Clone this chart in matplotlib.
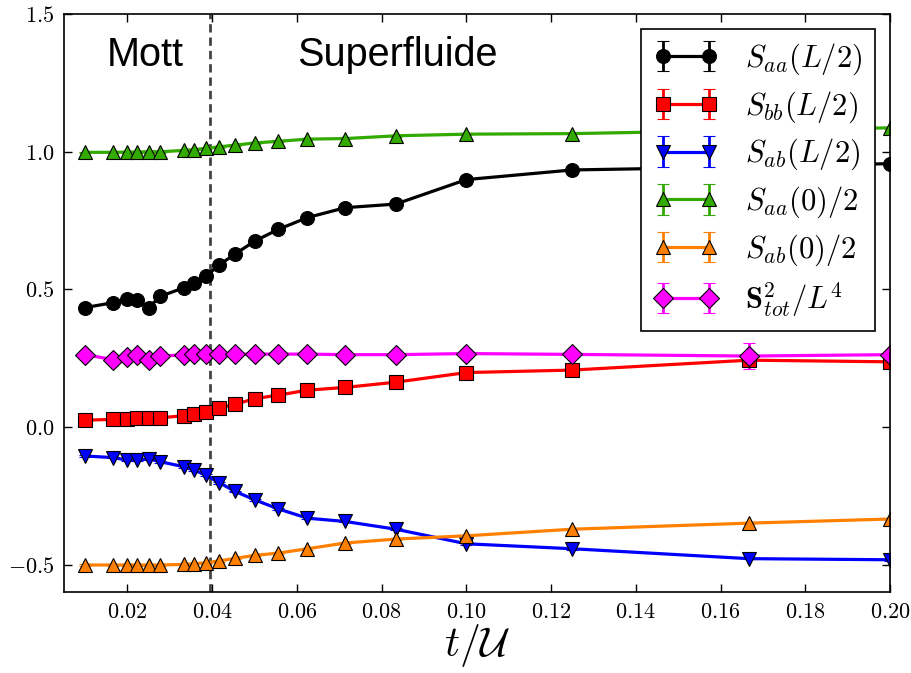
import matplotlib
matplotlib.use("Agg")
import matplotlib.pyplot as plt
from matplotlib.ticker import FuncFormatter

plt.rcParams['mathtext.fontset'] = 'cm'

# t/U values (1/U with t = 1)
t_over_u = [0.01, 0.01667, 0.02, 0.02222, 0.025, 0.02778, 0.03333, 0.03571,
            0.03846, 0.04167, 0.04545, 0.05, 0.05556, 0.0625, 0.07143, 0.08333,
            0.10, 0.125, 0.16667, 0.20]

s_aa_half = [0.434, 0.452, 0.466, 0.460, 0.434, 0.475, 0.506, 0.522, 0.547, 0.589,
             0.629, 0.675, 0.718, 0.761, 0.797, 0.810, 0.899, 0.934, 0.945, 0.957]
s_bb_half = [0.025, 0.028, 0.030, 0.032, 0.032, 0.034, 0.041, 0.047, 0.055, 0.069,
             0.083, 0.103, 0.116, 0.134, 0.144, 0.163, 0.198, 0.207, 0.243, 0.237]
s_ab_half = [-0.105, -0.111, -0.120, -0.120, -0.115, -0.126, -0.144, -0.156, -0.174, -0.202,
             -0.234, -0.264, -0.297, -0.331, -0.343, -0.371, -0.424, -0.442, -0.478, -0.482]
s_aa_zero = [0.998, 0.998, 0.999, 0.999, 1.000, 1.000, 1.005, 1.008, 1.012, 1.018,
             1.024, 1.032, 1.038, 1.046, 1.048, 1.058, 1.064, 1.066, 1.078, 1.087]
s_ab_zero = [-0.501, -0.501, -0.501, -0.501, -0.501, -0.501, -0.499, -0.496, -0.494, -0.486,
             -0.477, -0.466, -0.458, -0.442, -0.421, -0.407, -0.395, -0.371, -0.349, -0.334]
s_tot = [0.263, 0.245, 0.253, 0.261, 0.245, 0.258, 0.262, 0.264, 0.265, 0.265,
         0.265, 0.265, 0.265, 0.265, 0.263, 0.263, 0.267, 0.264, 0.258, 0.263]

err_small = [0.003] * 20
err_tot = [0.004] * 14 + [0.006, 0.008, 0.012, 0.012, 0.048, 0.012]

series = [
    (s_aa_half, err_small, 'o', 'k', r'$S_{aa}(L/2)$'),
    (s_bb_half, err_small, 's', '#ff0000', r'$S_{bb}(L/2)$'),
    (s_ab_half, err_small, 'v', '#0000ff', r'$S_{ab}(L/2)$'),
    (s_aa_zero, err_small, '^', '#33aa00', r'$S_{aa}(0)/2$'),
    (s_ab_zero, err_small, '^', '#ff8000', r'$S_{ab}(0)/2$'),
    (s_tot, err_tot, 'D', '#ff00ff', r'$\mathbf{S}^2_{tot}/L^4$'),
]
sizes = {'o': 10, 's': 9.5, 'v': 10, '^': 10, 'D': 10.5}

fig = plt.figure(figsize=(9.12, 6.73), dpi=100)
ax = fig.add_axes([0.070, 0.120, 0.906, 0.859])

for vals, err, mk, col, lab in series:
    ax.errorbar(t_over_u, vals, yerr=err, fmt='-', marker=mk, color=col,
                mfc=col, mec='k', mew=0.8, ms=sizes[mk], lw=2.3, elinewidth=2,
                capsize=4, capthick=1.5, label=lab)

# Mott / superfluid boundary
ax.axvline(0.0395, color='#444444', ls='--', lw=2, dashes=(3, 1.8))

ax.text(0.0243, 1.35, 'Mott', family='Liberation Sans', fontsize=28.5,
        ha='center', va='center')
ax.text(0.0837, 1.35, 'Superfluide', family='Liberation Sans', fontsize=28.5,
        ha='center', va='center')

ax.set_xlim(0.005, 0.20)
ax.set_ylim(-0.6, 1.5)
ax.set_xticks([0.02, 0.04, 0.06, 0.08, 0.10, 0.12, 0.14, 0.16, 0.18, 0.20])
ax.set_yticks([-0.5, 0.0, 0.5, 1.0, 1.5])
ax.xaxis.set_major_formatter(FuncFormatter(lambda v, p: r'$%.2f$' % v))
ax.yaxis.set_major_formatter(FuncFormatter(lambda v, p: r'$%.1f$' % v))
ax.tick_params(direction='in', top=True, right=True, length=6, width=1,
               labelsize=16, pad=7)
for sp in ax.spines.values():
    sp.set_linewidth(1.2)

ax.set_xlabel(r'$t/\mathcal{U}$', fontsize=30, labelpad=0)

leg = ax.legend(loc='upper right', numpoints=2, fontsize=22, fancybox=False,
                framealpha=1, handlelength=2.1, borderaxespad=0.5,
                labelspacing=0.4, handletextpad=0.9, borderpad=0.4)
leg.get_frame().set_edgecolor('k')
leg.get_frame().set_linewidth(1.2)

fig.savefig('out.png', dpi=100)
